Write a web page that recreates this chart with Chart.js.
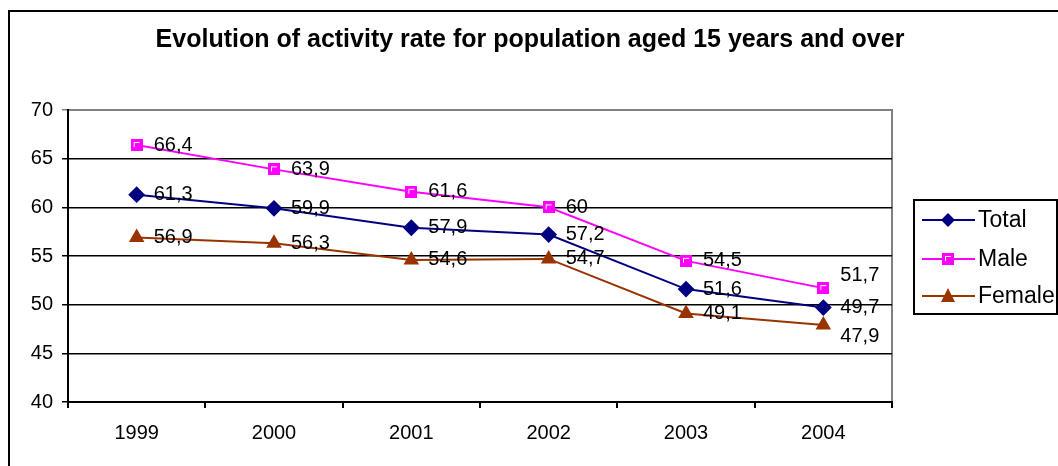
<!DOCTYPE html>
<html>
<head>
<meta charset="utf-8">
<script src="https://cdn.jsdelivr.net/npm/chart.js@4"></script>
<style>
  html, body { margin: 0; padding: 0; background: #fff; }
  #wrap { width: 1058px; height: 466px; }
</style>
</head>
<body>
<div id="wrap"><canvas id="chart" width="1058" height="466"></canvas></div>
<script>
const chartTitle = "Evolution of activity rate for population aged 15 years and over";
const years = ["1999", "2000", "2001", "2002", "2003", "2004"];
const totalRate = [61.3, 59.9, 57.9, 57.2, 51.6, 49.7];
const maleRate = [66.4, 63.9, 61.6, 60, 54.5, 51.7];
const femaleRate = [56.9, 56.3, 54.6, 54.7, 49.1, 47.9];

const FONT = "'Liberation Sans', Arial, sans-serif";

// square marker for Male, like the Excel one
const makeSquare = () => {
    const c = document.createElement("canvas");
    c.width = 12; c.height = 12;
    const g = c.getContext("2d");
    g.fillStyle = "#ff00ff";
    g.fillRect(0, 0, 12, 12);
    g.fillStyle = "#ffffff";
    g.fillRect(3, 3, 6, 1);
    g.fillRect(3, 3, 1, 5);
    return c;
};
const squareMarker = makeSquare();

// labels shift for the last points (Excel moved them a bit)
const labelShift = { 1: { 5: -13 }, 2: { 5: 11 } };

const chartFrame = {
    id: "chartFrame",
    beforeDraw(chart) {
        const ctx = chart.ctx;
        const a = chart.chartArea;
        ctx.save();
        ctx.strokeStyle = "#000";
        ctx.lineWidth = 2;
        ctx.beginPath();
        ctx.moveTo(9, 470);
        ctx.lineTo(9, 11);
        ctx.lineTo(1070, 11);
        ctx.stroke();
        // gray plot border
        ctx.strokeStyle = "#808080";
        ctx.lineWidth = 2;
        ctx.beginPath();
        ctx.moveTo(a.left, a.top);
        ctx.lineTo(a.right, a.top);
        ctx.lineTo(a.right, a.bottom);
        ctx.stroke();
        // title
        ctx.fillStyle = "#000";
        ctx.font = "bold 25px " + FONT;
        ctx.textAlign = "center";
        ctx.textBaseline = "middle";
        ctx.fillText(chartTitle, 530, 40);
        ctx.restore();
    },
    afterDatasetsDraw(chart) {
        const ctx = chart.ctx;
        ctx.save();
        ctx.font = "20px " + FONT;
        ctx.fillStyle = "#000";
        ctx.textAlign = "left";
        ctx.textBaseline = "middle";
        chart.data.datasets.forEach((ds, i) => {
            chart.getDatasetMeta(i).data.forEach((pt, j) => {
                const dy = (labelShift[i] && labelShift[i][j]) || 0;
                ctx.fillText(String(ds.data[j]).replace(".", ","), pt.x + 17, pt.y + dy);
            });
        });
        // legend box
        ctx.strokeStyle = "#000";
        ctx.lineWidth = 2;
        ctx.strokeRect(914, 200, 143, 114);
        const rows = [220, 259, 296];
        ctx.font = "23px " + FONT;
        chart.data.datasets.forEach((ds, i) => {
            const y = rows[i];
            ctx.strokeStyle = ds.borderColor;
            ctx.lineWidth = 2;
            ctx.beginPath();
            ctx.moveTo(922, y);
            ctx.lineTo(975, y);
            ctx.stroke();
            ctx.fillStyle = ds.pointBackgroundColor;
            ctx.beginPath();
            if (ds.pointStyle === "rectRot") {
                ctx.moveTo(948, y - 7); ctx.lineTo(955, y); ctx.lineTo(948, y + 7); ctx.lineTo(941, y);
                ctx.closePath(); ctx.fill();
            } else if (ds.pointStyle === "triangle") {
                ctx.moveTo(948, y - 8); ctx.lineTo(955, y + 6); ctx.lineTo(941, y + 6);
                ctx.closePath(); ctx.fill();
            } else {
                ctx.drawImage(squareMarker, 942, y - 6);
            }
            ctx.fillStyle = "#000";
            ctx.fillText(ds.label, 978, y + 1);
        });
        ctx.restore();
    }
};

new Chart(document.getElementById("chart"), {
    type: "line",
    data: {
        labels: years,
        datasets: [
            { label: "Total", data: totalRate, borderColor: "#000080", backgroundColor: "#000080",
              pointBackgroundColor: "#000080", pointBorderColor: "#000080", pointStyle: "rectRot", pointRadius: 7, borderWidth: 2 },
            { label: "Male", data: maleRate, borderColor: "#ff00ff", backgroundColor: "#ff00ff",
              pointBackgroundColor: "#ff00ff", pointBorderColor: "#ff00ff", pointStyle: squareMarker, pointRadius: 6, borderWidth: 2 },
            { label: "Female", data: femaleRate, borderColor: "#993300", backgroundColor: "#993300",
              pointBackgroundColor: "#993300", pointBorderColor: "#993300", pointStyle: "triangle", pointRadius: 7, borderWidth: 2 }
        ]
    },
    options: {
        responsive: false,
        animation: false,
        layout: { padding: { top: 110, right: 166, left: 0, bottom: 0 } },
        plugins: {
            legend: { display: false },
            title: { display: false },
            tooltip: { enabled: false }
        },
        elements: { line: { tension: 0 } },
        scales: {
            x: {
                offset: true,
                grid: { display: true, offset: true, drawOnChartArea: false, drawTicks: true, tickLength: 6, color: "#000", lineWidth: 2 },
                border: { color: "#000", width: 2 },
                ticks: { color: "#000", font: { family: FONT, size: 20 }, padding: 13 },
                afterFit: (s) => { s.height = 64; }
            },
            y: {
                min: 40, max: 70,
                grid: { color: (c) => c.tick.value === 70 ? "#808080" : "#000", lineWidth: 1.5, drawTicks: true, tickLength: 6 },
                border: { color: "#000", width: 2 },
                ticks: { stepSize: 5, color: "#000", font: { family: FONT, size: 20 }, padding: 9 },
                afterFit: (s) => { s.width = 68; }
            }
        }
    },
    plugins: [chartFrame]
});
</script>
</body>
</html>
